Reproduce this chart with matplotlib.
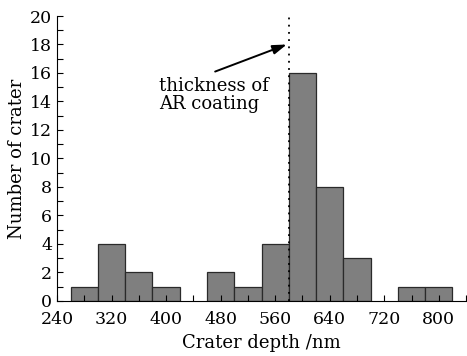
import numpy as np
import matplotlib
matplotlib.use('Agg')
import matplotlib.pyplot as plt
from matplotlib.ticker import MultipleLocator

# Histogram bins (40 nm wide) and crater counts
bin_left = [260, 300, 340, 380, 420, 460, 500, 540, 580, 620, 660, 700, 740, 780]
counts = [1, 4, 2, 1, 0, 2, 1, 4, 16, 8, 3, 0, 1, 1]
bin_width = 40
ar_thickness = 580

x_ticks = [240, 320, 400, 480, 560, 640, 720, 800]
y_ticks = [0, 2, 4, 6, 8, 10, 12, 14, 16, 18, 20]

plt.rcParams['font.family'] = ['DejaVu Serif']
plt.rcParams['font.size'] = 12.5

fig = plt.figure(figsize=(4.67, 3.56), dpi=100)
ax = fig.add_axes([0.122, 0.155, 0.876, 0.80])

# only draw bins that hold craters
lefts = [b for b, c in zip(bin_left, counts) if c > 0]
heights = [c for c in counts if c > 0]
ax.bar(lefts, heights, width=bin_width, align='edge',
       color='#7f7f7f', edgecolor='#2a2a2a', linewidth=0.9)

ax.vlines(ar_thickness, 0, 20, colors='k', linestyles=(0, (1, 3)), linewidth=1.3)

ax.annotate('', xy=(577, 18.0), xytext=(472, 16.1),
            arrowprops=dict(arrowstyle='-|>,head_length=0.6,head_width=0.2',
                            color='k', lw=1.4, mutation_scale=14,
                            shrinkA=0, shrinkB=0))
ax.text(390, 15.75, 'thickness of\nAR coating', ha='left', va='top',
        fontsize=13, linespacing=1.0)

ax.set_xlim(240, 840)
ax.set_ylim(0, 20)
ax.set_xticks(x_ticks)
ax.xaxis.set_minor_locator(MultipleLocator(40))
ax.set_yticks(y_ticks)
ax.yaxis.set_minor_locator(MultipleLocator(1))
ax.tick_params(which='both', direction='in', length=4, width=0.8)
ax.tick_params(axis='x', pad=7.5)
ax.tick_params(axis='y', pad=3.5)

ax.spines['top'].set_visible(False)
ax.spines['right'].set_visible(False)

ax.set_xlabel('Crater depth /nm', fontsize=13, labelpad=4)
ax.set_ylabel('Number of crater', fontsize=13, labelpad=3)

fig.savefig('out.png', dpi=100)
